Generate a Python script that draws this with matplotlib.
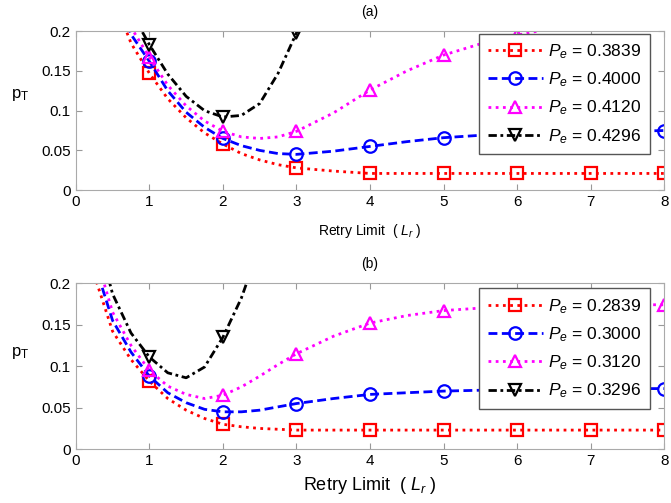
import numpy as np
import matplotlib
matplotlib.use('Agg')
import matplotlib.pyplot as plt
from matplotlib.ticker import FuncFormatter

plt.rcParams['font.family'] = 'Liberation Sans'
plt.rcParams['mathtext.fontset'] = 'custom'
plt.rcParams['mathtext.rm'] = 'Liberation Sans'
plt.rcParams['mathtext.it'] = 'Liberation Sans:italic'

# ---- panel (a) ----
x_a = [0.5, 0.75, 1, 1.25, 1.5, 1.75, 2, 2.25, 2.5, 2.75, 3, 3.5, 4, 4.5, 5, 5.5, 6, 6.5, 7, 7.5, 8]
red_a = [0.245, 0.185, 0.147, 0.115, 0.091, 0.072, 0.058, 0.046, 0.038, 0.032, 0.028, 0.024, 0.021,
         0.021, 0.021, 0.021, 0.021, 0.021, 0.021, 0.021, 0.021]
blue_a = [0.26, 0.196, 0.162, 0.125, 0.098, 0.079, 0.065, 0.056, 0.050, 0.046, 0.045, 0.049, 0.055,
          0.061, 0.066, 0.069, 0.071, 0.072, 0.073, 0.074, 0.075]
mag_a = [0.27, 0.205, 0.167, 0.132, 0.106, 0.087, 0.074, 0.067, 0.065, 0.067, 0.074, 0.097, 0.126,
         0.150, 0.170, 0.184, 0.195, 0.204, 0.21, 0.215, 0.22]
black_a = [0.30, 0.225, 0.183, 0.146, 0.118, 0.100, 0.092, 0.094, 0.109, 0.147, 0.198, 0.30, np.nan,
           np.nan, np.nan, np.nan, np.nan, np.nan, np.nan, np.nan, np.nan]
labels_a = ['0.3839', '0.4000', '0.4120', '0.4296']

# ---- panel (b) ----
x_b = [0.25, 0.5, 0.75, 1, 1.25, 1.5, 1.75, 2, 2.25, 2.5, 2.75, 3, 3.5, 4, 4.5, 5, 5.5, 6, 6.5, 7, 7.5, 8]
red_b = [0.21, 0.142, 0.108, 0.082, 0.061, 0.047, 0.037, 0.030, 0.027, 0.025, 0.024, 0.023, 0.023,
         0.023, 0.023, 0.023, 0.023, 0.023, 0.023, 0.023, 0.023, 0.023]
blue_b = [0.225, 0.155, 0.117, 0.088, 0.068, 0.056, 0.048, 0.045, 0.045, 0.047, 0.051, 0.055, 0.061,
          0.066, 0.068, 0.070, 0.071, 0.071, 0.072, 0.072, 0.073, 0.073]
mag_b = [0.24, 0.165, 0.125, 0.095, 0.076, 0.066, 0.061, 0.065, 0.075, 0.088, 0.102, 0.115, 0.136,
         0.152, 0.161, 0.167, 0.170, 0.172, 0.173, 0.173, 0.174, 0.174]
black_b = [0.27, 0.187, 0.140, 0.111, 0.092, 0.086, 0.099, 0.135, 0.182, 0.245, np.nan, np.nan, np.nan,
           np.nan, np.nan, np.nan, np.nan, np.nan, np.nan, np.nan, np.nan, np.nan]
labels_b = ['0.2839', '0.3000', '0.3120', '0.3296']

styles = [('red', (0, (1, 1.6)), 's'), ('blue', (0, (3.2, 1.6)), 'o'),
          ('magenta', (0, (1, 1.6)), '^'), ('black', (0, (3, 1.3, 1, 1.3)), 'v')]


def draw(ax, x, series, labels, title, xlabel_size, ylab_y, xlab_y, leg_y):
    x = np.array(x)
    marks = [i for i, v in enumerate(x) if v == int(v)]
    for ys, lab, (c, ls, m) in zip(series, labels, styles):
        ax.plot(x, ys, color=c, linestyle=ls, linewidth=2, marker=m, markersize=9,
                markerfacecolor='none', markeredgewidth=1.6, markevery=marks,
                label='$P_e$ = ' + lab)
    ax.set_xlim(0, 8)
    ax.set_ylim(0, 0.2)
    ax.set_xticks(range(9))
    ax.set_yticks([0, 0.05, 0.1, 0.15, 0.2])
    ax.yaxis.set_major_formatter(FuncFormatter(lambda v, p: '%g' % v))
    ax.tick_params(direction='in', top=True, right=True, labelsize=11, color='#999999', length=4)
    for s in ax.spines.values():
        s.set_color('#aaaaaa')
    ax.set_title(title, fontsize=10, pad=11)
    ax.set_xlabel('Retry Limit  ( $L_r$ )', fontsize=xlabel_size)
    ax.xaxis.set_label_coords(0.5, xlab_y)
    ax.set_ylabel('p$_\\mathregular{T}$', fontsize=12, rotation=0)
    ax.yaxis.set_label_coords(-0.095, ylab_y)
    leg = ax.legend(loc='upper right', bbox_to_anchor=(0.976, leg_y), fontsize=12.5,
                    handlelength=3.2, borderaxespad=0, fancybox=False, framealpha=1,
                    labelspacing=0.55, handletextpad=0.3, borderpad=0.5)
    leg.get_frame().set_edgecolor('#555555')


fig = plt.figure(figsize=(6.71, 5.03), dpi=100)
ax1 = fig.add_axes([0.113, 0.622, 0.877, 0.316])
ax2 = fig.add_axes([0.113, 0.107, 0.877, 0.330])

draw(ax1, x_a, [red_a, blue_a, mag_a, black_a], labels_a, '(a)', 10, 0.55, -0.2, 0.985)
draw(ax2, x_b, [red_b, blue_b, mag_b, black_b], labels_b, '(b)', 13, 0.53, -0.155, 0.97)

fig.savefig('out.png', dpi=100)
